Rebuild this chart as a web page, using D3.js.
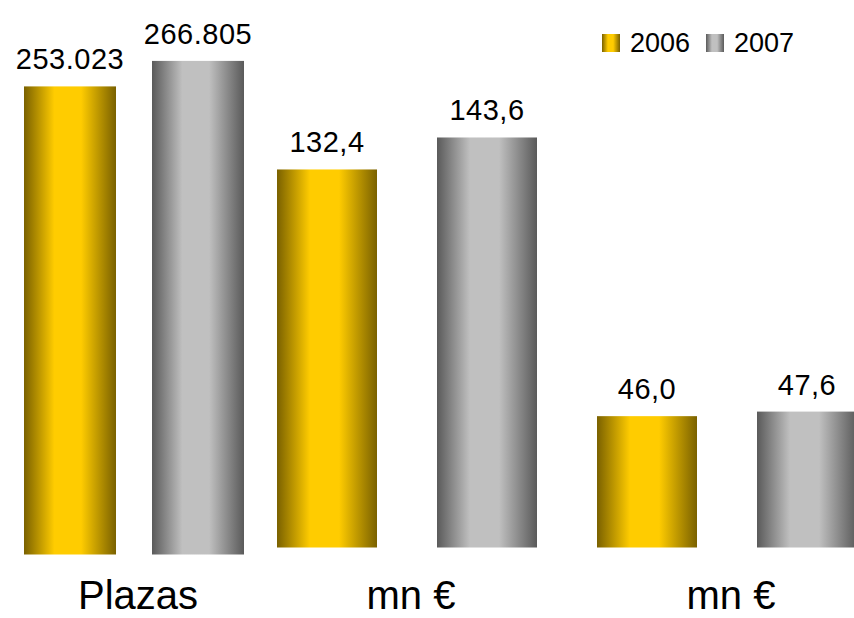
<!DOCTYPE html>
<html><head><meta charset="utf-8">
<script src="https://cdn.jsdelivr.net/npm/d3@7"></script>
<style>
html,body{margin:0;padding:0;background:#fff;}
svg{display:block;}
text{font-family:"Liberation Sans",Arial,sans-serif;fill:#000;}
</style></head>
<body>
<script>
// ---- data ----
const years = ["2006", "2007"];
const categories = ["Plazas", "mn €", "mn €"];
const values2006 = [253.023, 132.4, 46.0];
const values2007 = [266.805, 143.6, 47.6];
const valueLabels2006 = ["253.023", "132,4", "46,0"];
const valueLabels2007 = ["266.805", "143,6", "47,6"];

const W = 854, H = 618;
const svg = d3.select("body").append("svg").attr("width", W).attr("height", H);

// gradients
const defs = svg.append("defs");
function grad(id, edge, mid) {
  const g = defs.append("linearGradient").attr("id", id)
    .attr("x1", "0%").attr("x2", "100%").attr("y1", "0%").attr("y2", "0%");
  [[0, edge], [0.33, mid], [0.62, mid], [1, edge]].forEach(([o, c]) =>
    g.append("stop").attr("offset", o).attr("stop-color", c));
}
grad("g2006", "#7a6100", "#ffcc00");
grad("g2007", "#5a5a5a", "#c0c0c0");
const fills = {"2006": "url(#g2006)", "2007": "url(#g2007)"};

// panel 1: Plazas (own scale)
const yA = d3.scaleLinear().domain([0, 300]).range([554.5, -0.5]);
const xA = d3.scaleBand().domain(years).range([24, 244]).paddingInner(36 / 128);
// panel 2: mn € groups (shared scale)
const yB = d3.scaleLinear().domain([0, 190]).range([547.5, 5]);
const xBGroup = d3.scaleBand().domain([1, 2]).range([277, 277 + 320 + 260]).paddingInner(60 / 320);
const xBYear = d3.scaleBand().domain(years).range([0, 260]).paddingInner(60 / 160);

const bars = [];
categories.forEach((c, i) => {
  years.forEach((yr, j) => {
    const v = j === 0 ? values2006[i] : values2007[i];
    const lbl = j === 0 ? valueLabels2006[i] : valueLabels2007[i];
    let x, w, y, y0;
    if (i === 0) { x = xA(yr); w = xA.bandwidth(); y = yA(v); y0 = yA(0); }
    else { x = xBGroup(i) + xBYear(yr); w = xBYear.bandwidth(); y = yB(v); y0 = yB(0); }
    bars.push({cat: i, yr, v, lbl, x, w, y, y0});
  });
});

svg.selectAll("rect.bar").data(bars).enter().append("rect")
  .attr("class", "bar")
  .attr("x", d => d.x).attr("width", d => d.w)
  .attr("y", d => d.y).attr("height", d => d.y0 - d.y)
  .attr("fill", d => fills[d.yr]);

svg.selectAll("text.val").data(bars).enter().append("text")
  .attr("class", "val")
  .attr("x", d => d.x + d.w / 2)
  .attr("y", d => d.y - 17)
  .attr("text-anchor", "middle")
  .attr("font-size", 29)
  .attr("letter-spacing", 0.5)
  .text(d => d.lbl);

// category labels
const catPos = categories.map((c, i) => {
  if (i === 0) return (xA("2006") + xA("2007") + xA.bandwidth()) / 2;
  return xBGroup(i) + xBGroup.bandwidth() / 2;
});
svg.selectAll("text.cat").data(categories).enter().append("text")
  .attr("class", "cat")
  .attr("x", (d, i) => catPos[i] + 4)
  .attr("y", 609)
  .attr("text-anchor", "middle")
  .attr("font-size", 40)
  .text(d => d);

// legend
const leg = svg.append("g").attr("transform", "translate(602,34)");
years.forEach((yr, j) => {
  const g = leg.append("g").attr("transform", `translate(${j * 104},0)`);
  g.append("rect").attr("width", 18).attr("height", 18).attr("fill", fills[yr]);
  g.append("text").attr("x", 28).attr("y", 18).attr("font-size", 27).text(yr);
});
</script>
</body></html>
